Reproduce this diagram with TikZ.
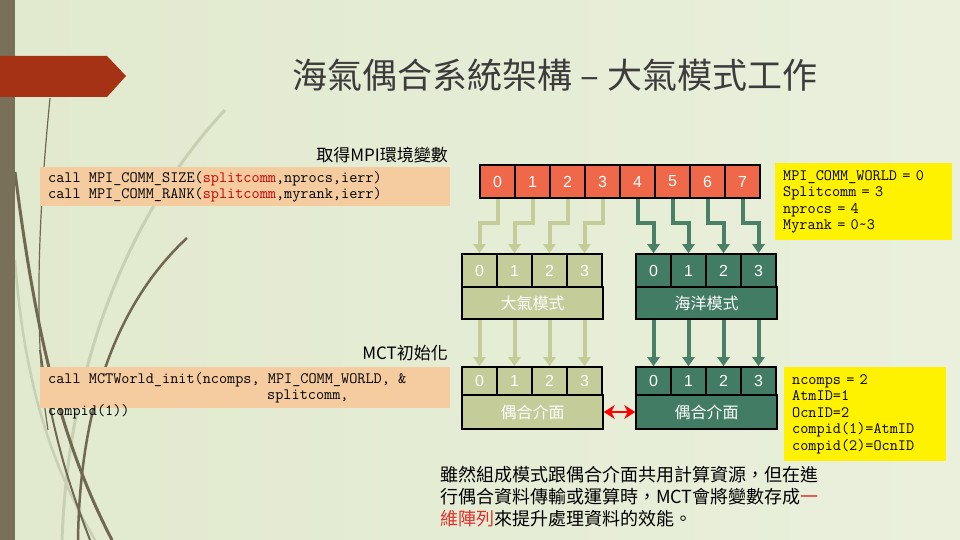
\documentclass[tikz,border=0pt]{standalone}
\usepackage{fontspec}
\setmainfont{Noto Sans CJK TC}
\newfontfamily\numfont{Liberation Sans}
\usetikzlibrary{arrows.meta,positioning}

\definecolor{bgleft}{RGB}{225,233,206}
\definecolor{bgmid}{RGB}{245,247,238}
\definecolor{bgright}{RGB}{234,240,220}
\definecolor{barbrown}{RGB}{120,112,88}
\definecolor{grass}{RGB}{112,104,80}
\definecolor{lightgrass}{RGB}{200,208,180}
\definecolor{tagred}{RGB}{166,50,22}
\definecolor{peach}{RGB}{245,203,160}
\definecolor{coral}{RGB}{240,104,74}
\definecolor{sage}{RGB}{196,204,154}
\definecolor{teal}{RGB}{66,124,100}
\definecolor{tealline}{RGB}{74,128,102}
\definecolor{codered}{RGB}{204,0,0}
\definecolor{notered}{RGB}{224,48,42}
\definecolor{titlegray}{RGB}{60,60,60}

\tikzset{
  worldcell/.style={draw=black, line width=1.6pt, fill=coral, text=white,
    minimum width=35pt, minimum height=33pt, inner sep=0pt,
    font=\numfont\fontsize{16}{16}\selectfont},
  atmcell/.style={worldcell, fill=sage},
  ocncell/.style={worldcell, fill=teal},
  atmbox/.style={draw=black, line width=1.6pt, fill=sage, text=white,
    minimum width=141pt, minimum height=32pt, inner sep=0pt,
    font=\fontsize{16}{16}\selectfont},
  ocnbox/.style={atmbox, fill=teal},
  codebox/.style={fill=peach, inner sep=0pt, minimum width=410pt},
  codetext/.style={align=left, inner sep=0pt,
    font=\ttfamily\fontsize{15.8}{16}\selectfont},
  infobox/.style={fill=yellow, align=left, inner xsep=8pt, inner ysep=7pt,
    anchor=north west, font=\ttfamily\fontsize{15.8}{16.5}\selectfont},
  atmflow/.style={draw=sage, line width=4pt,
    -{Triangle[length=9pt,width=12pt]}},
  ocnflow/.style={atmflow, draw=tealline},
  steplabel/.style={anchor=east, inner sep=0pt, text=black,
    font=\fontsize{17}{17}\selectfont}
}

\begin{document}
\begin{tikzpicture}[x=1pt,y=-1pt]
% background
\shade[left color=bgleft, middle color=bgmid, right color=bgright]
  (0,0) rectangle (960,540);
\useasboundingbox (0,0) rectangle (960,540);

% grass on the left
\begin{scope}
\clip (0,0) rectangle (960,540);
\draw[lightgrass, line width=3pt] (225,110) .. controls (150,190) and (70,330) .. (62,540);
\draw[lightgrass, line width=2.5pt] (15,260) .. controls (25,400) and (60,480) .. (95,540);
\draw[grass, line width=1.2pt] (50,98) .. controls (40,200) and (32,330) .. (48,430);
\draw[grass, line width=3pt] (15,172) .. controls (35,330) and (60,440) .. (112,540);
\draw[grass, line width=2.5pt] (187,238) .. controls (120,300) and (80,400) .. (78,540);
\draw[grass, line width=2pt] (40,350) .. controls (55,450) and (75,500) .. (90,540);
\end{scope}
\fill[barbrown] (0,0) rectangle (15,540);
\fill[tagred] (0,56) -- (107,56) -- (126,76) -- (107,97) -- (0,97) -- cycle;

% title
\node[text=titlegray, font=\fontsize{35}{35}\selectfont] (title) at (555,75)
  {海氣偶合系統架構 -- 大氣模式工作};

% MPI step
\node[steplabel] (getenv) at (448,155) {取得MPI環境變數};
\node[codebox, minimum height=39pt, anchor=north west] (sizecode) at (40,167) {};
\node[codetext, anchor=west] (sizetext) at (48,186.5)
  {call MPI\_COMM\_SIZE(\textcolor{codered}{splitcomm},nprocs,ierr)\\
   call MPI\_COMM\_RANK(\textcolor{codered}{splitcomm},myrank,ierr)};

\foreach \i in {0,...,7}
  \node[worldcell] (w\i) at (497.5+35*\i,181.5) {\i};

\node[infobox, text width=161pt, minimum height=76pt] (worldinfo) at (775,163)
  {MPI\_COMM\_WORLD = 0\\Splitcomm = 3\\nprocs = 4\\Myrank = 0\textasciitilde3};

% split into the two models
\foreach \i in {0,...,3}
  \node[atmcell] (a\i) at (479.5+35*\i,270.5) {\i};
\node[atmbox] (atm) at (532.5,303) {大氣模式};
\foreach \i in {0,...,3}
  \node[ocncell] (o\i) at (653.5+35*\i,270.5) {\i};
\node[ocnbox] (ocn) at (706.5,303) {海洋模式};

\foreach \i in {0,...,3}
  \draw[atmflow] (w\i.south) -- ++(0,24) -| (a\i.north);
\foreach \i/\j in {0/4,1/5,2/6,3/7}
  \draw[ocnflow] (w\j.south) -- ++(0,24) -| (o\i.north);

% MCT step
\node[steplabel] (mctinit) at (448,353) {MCT初始化};
\node[codebox, minimum height=41pt, anchor=north west] (initcode) at (40,367) {};
\node[codetext, anchor=north west] (inittext) at (48,372)
  {call MCTWorld\_init(ncomps, MPI\_COMM\_WORLD, \&\\
   \hspace*{219pt}splitcomm,\\
   compid(1))};

\foreach \i in {0,...,3}
  \node[atmcell, minimum height=28pt] (ca\i) at (479.5+35*\i,381) {\i};
\node[atmbox, minimum height=34pt] (cplatm) at (532.5,412) {偶合介面};
\foreach \i in {0,...,3}
  \node[ocncell, minimum height=28pt] (co\i) at (653.5+35*\i,381) {\i};
\node[ocnbox, minimum height=34pt] (cplocn) at (706.5,412) {偶合介面};

\foreach \i in {0,...,3}
  \draw[atmflow] (a\i.north |- atm.south) -- (ca\i.north);
\foreach \i in {0,...,3}
  \draw[ocnflow] (o\i.north |- ocn.south) -- (co\i.north);

\draw[red, line width=2.5pt, {Stealth[length=11pt,width=14pt]}-{Stealth[length=11pt,width=14pt]}]
  (cplatm.east) -- (cplocn.west);

\node[infobox, text width=146pt, minimum height=93pt] (mctinfo) at (784,367)
  {ncomps = 2\\AtmID=1\\OcnID=2\\compid(1)=AtmID\\compid(2)=OcnID};

% note
\node[anchor=north west, align=left, inner sep=0pt, text width=400pt,
  font=\fontsize{18}{22}\selectfont] (note) at (440,466)
  {雖然組成模式跟偶合介面共用計算資源，但在進\\
   行偶合資料傳輸或運算時，MCT會將變數存成\textcolor{notered}{一}\\
   \textcolor{notered}{維陣列}來提升處理資料的效能。};
\end{tikzpicture}
\end{document}
